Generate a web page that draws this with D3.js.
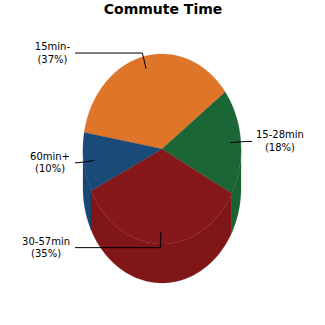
<!DOCTYPE html>
<html>
<head>
<meta charset="utf-8">
<script src="https://cdn.jsdelivr.net/npm/d3@7"></script>
<style>
  body { margin: 0; background: #fff; }
  text { font-family: "DejaVu Sans", sans-serif; }
</style>
</head>
<body>
<script>
const categories = ['15min-', '15-28min', '30-57min', '60min+'];
const values = [37, 18, 35, 10];
const colors = ['#df7528', '#1b6636', '#86171a', '#194a78'];

const width = 325, height = 325;
const cx = 162, cy = 149, rx = 79, ry = 95, depth = 39;

const svg = d3.select('body')
  .append('svg')
  .attr('width', width)
  .attr('height', height);

svg.append('text')
  .attr('x', 163)
  .attr('y', 14)
  .attr('text-anchor', 'middle')
  .style('font-size', '14px')
  .style('font-weight', 'bold')
  .text('Commute Time');

const pie = d3.pie().sort(null)
  .startAngle(-80 * Math.PI / 180)
  .endAngle(280 * Math.PI / 180);

const arcs = pie(values);

const pt = (a, f = 1, dy = 0) => [cx + rx * f * Math.sin(a), cy - ry * f * Math.cos(a) + dy];

function arcPoints(a0, a1, dy) {
  const n = Math.max(2, Math.ceil(Math.abs(a1 - a0) / 0.02));
  return d3.range(n + 1).map(i => pt(a0 + (a1 - a0) * i / n, 1, dy));
}

const line = d3.line();

// side walls (front half only)
const g = svg.append('g');
arcs.forEach((d, i) => {
  const b0 = Math.max(d.startAngle, Math.PI / 2);
  const b1 = Math.min(d.endAngle, Math.PI * 3 / 2);
  if (b1 <= b0) return;
  const top = arcPoints(b0, b1, 0);
  const bot = arcPoints(b1, b0, depth);
  g.append('path')
    .attr('d', line(top.concat(bot)) + 'Z')
    .attr('fill', d3.color(colors[i]).darker(0.1))
    .attr('stroke', d3.color(colors[i]).darker(0.6))
    .attr('stroke-opacity', 0.35)
    .attr('stroke-width', 0.6);
});

// top faces
arcs.forEach((d, i) => {
  const pts = [[cx, cy]].concat(arcPoints(d.startAngle, d.endAngle, 0));
  g.append('path')
    .attr('d', line(pts) + 'Z')
    .attr('fill', colors[i])
    .attr('stroke', d3.color(colors[i]).darker(0.6))
    .attr('stroke-opacity', 0.35)
    .attr('stroke-width', 0.6);
});

// labels with leader lines
const leftX = cx - rx - 8, rightX = cx + rx + 11;
arcs.forEach((d, i) => {
  const mid = (d.startAngle + d.endAngle) / 2;
  const p0 = pt(mid, 0.87);
  const p1 = [p0[0] + 16 * Math.sin(mid), p0[1] - 16 * Math.cos(mid)];
  const right = Math.sin(mid) > 0.5;
  const ex = right ? rightX : leftX;
  svg.append('path')
    .attr('d', line([p0, p1, [ex, p1[1]]]))
    .attr('fill', 'none')
    .attr('stroke', '#000')
    .attr('stroke-width', 1);

  const lines = [categories[i], '(' + values[i] + '%)'];
  const t = svg.append('g');
  const texts = lines.map((s, k) => t.append('text')
    .attr('y', p1[1] - 3 + k * 12.5)
    .attr('text-anchor', 'middle')
    .style('font-size', '10px')
    .text(s));
  const w = d3.max(texts, s => s.node().getComputedTextLength());
  const center = right ? ex + 4 + w / 2 : ex - 5 - w / 2;
  texts.forEach(s => s.attr('x', center));
});
</script>
</body>
</html>
